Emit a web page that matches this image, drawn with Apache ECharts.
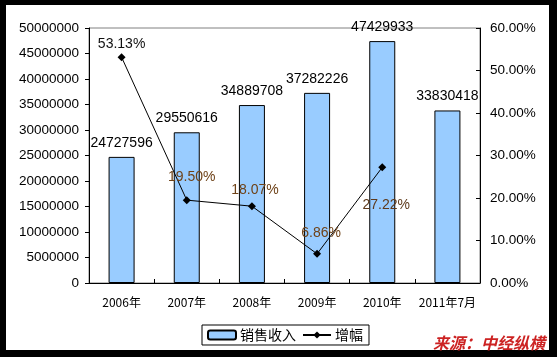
<!DOCTYPE html>
<html><head><meta charset="utf-8">
<script src="https://cdn.jsdelivr.net/npm/echarts@6/dist/echarts.min.js"></script>
<style>html,body{margin:0;padding:0;background:#000}#c{width:557px;height:357px}</style>
</head><body><div id="c"></div>
<script>
const categories = ['2006年','2007年','2008年','2009年','2010年','2011年7月'];
const revenue = [24727596, 29550616, 34889708, 37282226, 47429933, 33830418];
const growth = [0.5313, 0.1950, 0.1807, 0.0686, 0.2722, null];
const leftTicks = {min: 0, max: 50000000, interval: 5000000};
const rightTicks = {min: 0, max: 0.6, interval: 0.1};
// styling (label nudges)
const growthLabelOffsets = [[0,-13],[5,-23],[3,-16],[4,-21],[4,38],[0,0]];
const growthLabelColors = ['#111','#6e4218','#6e4218','#6e4218','#5e3a1c','#000'];

const FONT = "'Liberation Sans', Arial, 'Noto Sans CJK SC', sans-serif";
const chart = echarts.init(document.getElementById('c'), null, {renderer: 'canvas'});
chart.setOption({
  backgroundColor: '#000',
  animation: false,
  textStyle: {fontFamily: FONT},
  graphic: [
    {type: 'rect', shape: {x: 6, y: 5, width: 543, height: 345}, style: {fill: '#fff'}, z: -10},
    {type: 'text', left: 433, top: 335, z: 100,
     style: {text: '来源：中经纵横', fill: '#cc2222', font: "italic bold 16px 'Noto Sans CJK SC', sans-serif",
             shadowColor: '#444', shadowOffsetX: 1, shadowOffsetY: 1, shadowBlur: 0}}
  ],
  grid: {left: 89, top: 28, right: 77, bottom: 74, show: true, borderColor: '#808080', borderWidth: 1, backgroundColor: 'transparent'},
  legend: {
    left: 202, top: 325, padding: [3, 6, 3, 5], itemGap: 6, itemWidth: 28, itemHeight: 9,
    borderColor: '#000', borderWidth: 1, backgroundColor: '#fff',
    textStyle: {fontSize: 14, color: '#000', fontFamily: "'Noto Sans CJK SC', sans-serif", padding: [0,0,0,-1]},
    data: ['销售收入', '增幅']
  },
  xAxis: {
    type: 'category', data: categories, boundaryGap: true,
    axisLine: {lineStyle: {color: '#000', width: 1}},
    axisTick: {show: true, inside: true, length: 4, lineStyle: {color: '#000'}},
    axisLabel: {color: '#000', fontSize: 12, margin: 13, interval: 0, hideOverlap: false,
                fontFamily: "'Noto Sans CJK SC', sans-serif"}
  },
  yAxis: [
    {type: 'value', min: leftTicks.min, max: leftTicks.max, interval: leftTicks.interval,
     axisLine: {show: true, lineStyle: {color: '#000'}},
     axisTick: {show: true, inside: false, length: 4, lineStyle: {color: '#000'}},
     splitLine: {show: false},
     axisLabel: {color: '#000', fontSize: 13.5, margin: 10, formatter: v => String(v)}},
    {type: 'value', min: rightTicks.min, max: rightTicks.max, interval: rightTicks.interval, position: 'right',
     axisLine: {show: true, lineStyle: {color: '#000'}},
     axisTick: {show: true, inside: true, length: 4, lineStyle: {color: '#000'}},
     splitLine: {show: false},
     axisLabel: {color: '#000', fontSize: 13.5, margin: 10, formatter: v => (v * 100).toFixed(2) + '%'}}
  ],
  series: [
    {name: '销售收入', type: 'bar', data: revenue, barWidth: 26, yAxisIndex: 0,
     itemStyle: {color: '#99CCFF', borderColor: '#000', borderWidth: 1},
     label: {show: true, position: 'top', distance: 7, color: '#000', fontSize: 14}},
    {name: '增幅', type: 'line', yAxisIndex: 1, z: 5,
     data: growth.map((v, i) => ({value: v, label: {offset: growthLabelOffsets[i], color: growthLabelColors[i]}})),
     symbol: 'diamond', symbolSize: 8, showSymbol: true,
     lineStyle: {color: '#000', width: 1}, itemStyle: {color: '#000'},
     label: {show: true, position: 'inside', fontSize: 14,
             formatter: p => p.value == null ? '' : (p.value * 100).toFixed(2) + '%'}}
  ]
});
</script></body></html>
